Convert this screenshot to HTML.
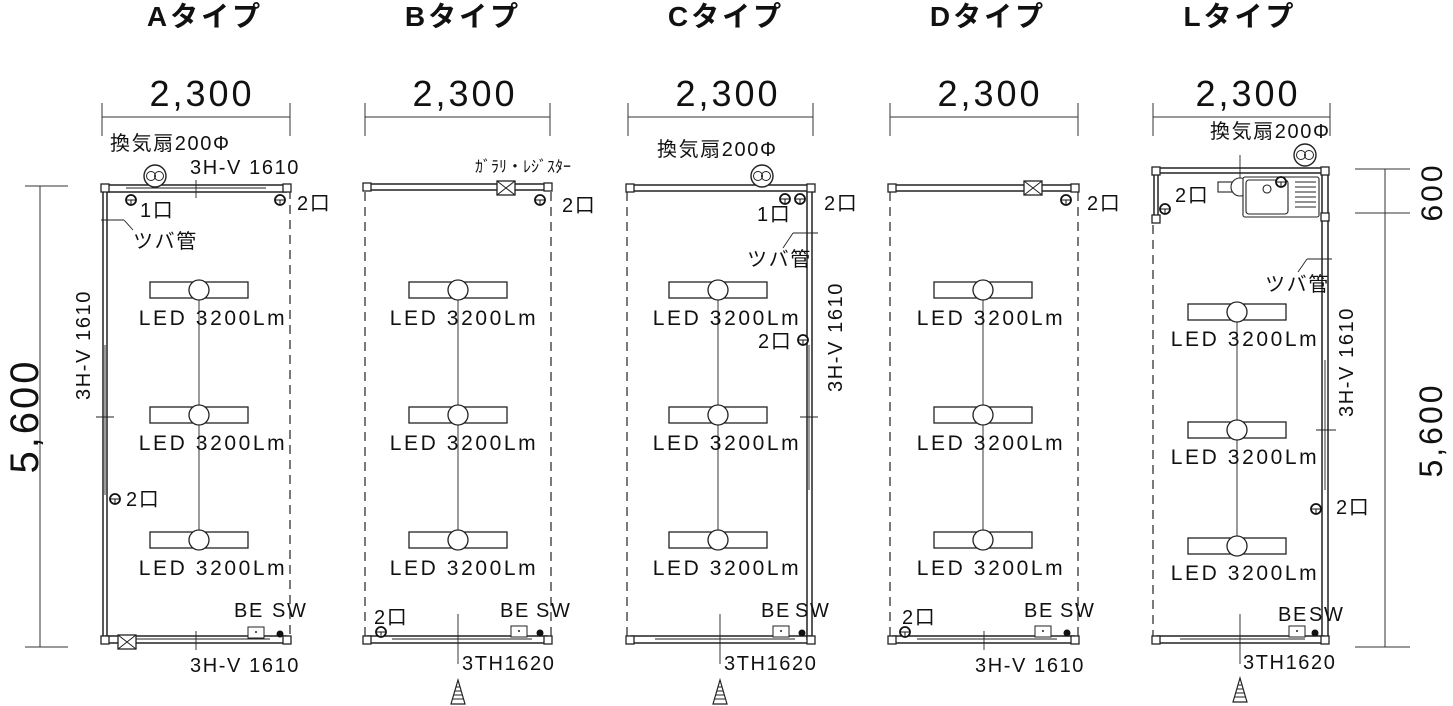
<!DOCTYPE html>
<html><head><meta charset="utf-8"><style>
html,body{margin:0;padding:0;background:#fff;}
svg{display:block;}
text{font-family:"Liberation Sans","Noto Sans CJK JP",sans-serif;fill:#111;}
.t{font-size:28px;font-weight:bold;letter-spacing:3px;}
.d{font-size:36px;letter-spacing:3px;}
.s{font-size:20px;letter-spacing:1.6px;}
.l{font-size:21px;letter-spacing:2.6px;}
.x{font-size:16px;}
</style></head><body>
<svg width="1453" height="706" viewBox="0 0 1453 706" xmlns="http://www.w3.org/2000/svg">
<defs>
 <g id="led"><rect x="-49" y="-8" width="98" height="16" fill="#fff" stroke="#222" stroke-width="1.3"/><circle r="10" fill="#fff" stroke="#222" stroke-width="1.3"/></g>
 <g id="fan"><circle r="11" fill="#fff" stroke="#222" stroke-width="1.4"/><circle cx="-4" r="4.5" fill="none" stroke="#222"/><circle cx="4" r="4.5" fill="none" stroke="#222"/></g>
 <g id="out"><circle r="5" fill="#fff" stroke="#111" stroke-width="1.8"/><line x1="-4" y1="0" x2="4" y2="0" stroke="#111"/><line x1="0" y1="0" x2="0" y2="4" stroke="#111"/></g>
 <g id="xb"><rect x="-9" y="-7" width="18" height="14" fill="#fff" stroke="#222" stroke-width="1.3"/><line x1="-9" y1="-7" x2="9" y2="7" stroke="#222"/><line x1="9" y1="-7" x2="-9" y2="7" stroke="#222"/></g>
 <g id="cor"><rect x="-4" y="-4" width="8" height="8" fill="#fff" stroke="#222" stroke-width="1.3"/></g>
 <g id="arr"><path d="M0,0 L-7,24 L7,24 Z" fill="#fff" stroke="#222" stroke-width="1.2"/><line x1="-2" y1="7" x2="2" y2="7" stroke="#222"/><line x1="-3" y1="11" x2="3" y2="11" stroke="#222"/><line x1="-4" y1="15" x2="4" y2="15" stroke="#222"/><line x1="-5" y1="19" x2="5" y2="19" stroke="#222"/></g>
 <g id="be"><rect x="-8" y="-6" width="16" height="11" fill="#fff" stroke="#222"/><circle r="1" cy="-1" fill="#222"/></g>
</defs>

<g stroke="#333" fill="none" stroke-width="1">
 <line x1="102" y1="117" x2="290" y2="117"/><line x1="102" y1="103" x2="102" y2="136"/><line x1="290" y1="103" x2="290" y2="136"/>
 <line x1="365" y1="117" x2="550" y2="117"/><line x1="365" y1="103" x2="365" y2="136"/><line x1="550" y1="103" x2="550" y2="136"/>
 <line x1="628" y1="117" x2="813" y2="117"/><line x1="628" y1="103" x2="628" y2="136"/><line x1="813" y1="103" x2="813" y2="136"/>
 <line x1="890" y1="117" x2="1078" y2="117"/><line x1="890" y1="103" x2="890" y2="136"/><line x1="1078" y1="103" x2="1078" y2="136"/>
 <line x1="1153" y1="117" x2="1330" y2="117"/><line x1="1153" y1="103" x2="1153" y2="136"/><line x1="1330" y1="103" x2="1330" y2="136"/>
 <line x1="40" y1="186" x2="40" y2="647"/><line x1="25" y1="186" x2="68" y2="186"/><line x1="25" y1="647" x2="68" y2="647"/>
 <line x1="1385" y1="169" x2="1385" y2="647"/><line x1="1355" y1="169" x2="1410" y2="169"/><line x1="1355" y1="213" x2="1410" y2="213"/><line x1="1355" y1="647" x2="1410" y2="647"/>
</g>

<text class="t" x="205" y="26" text-anchor="middle">Aタイプ</text>
<text class="t" x="463" y="26" text-anchor="middle">Bタイプ</text>
<text class="t" x="726" y="26" text-anchor="middle">Cタイプ</text>
<text class="t" x="988" y="26" text-anchor="middle">Dタイプ</text>
<text class="t" x="1240" y="26" text-anchor="middle">Lタイプ</text>
<text class="d" x="202" y="106" text-anchor="middle">2,300</text>
<text class="d" x="465" y="106" text-anchor="middle">2,300</text>
<text class="d" x="728" y="106" text-anchor="middle">2,300</text>
<text class="d" x="990" y="106" text-anchor="middle">2,300</text>
<text class="d" x="1248" y="106" text-anchor="middle">2,300</text>
<text class="d" transform="translate(38,416) rotate(-90)" text-anchor="middle" style="font-size:40px">5,600</text>
<text class="d" transform="translate(1442,430) rotate(-90)" text-anchor="middle" style="font-size:32px">5,600</text>
<text class="d" transform="translate(1442,192) rotate(-90)" text-anchor="middle" style="font-size:30px">600</text>

<!-- A -->
<g stroke="#222" fill="none" stroke-width="1.5">
 <line x1="103" y1="188" x2="103" y2="640"/><line x1="107" y1="192" x2="107" y2="636"/>
 <line x1="105" y1="185" x2="287" y2="185"/><line x1="107" y1="192" x2="287" y2="192"/>
 <line x1="126" y1="188" x2="266" y2="188" stroke-width="0.9"/>
 <line x1="105" y1="636" x2="287" y2="636"/><line x1="105" y1="643" x2="287" y2="643"/>
 <line x1="130" y1="639" x2="270" y2="639" stroke-width="0.9"/>
 <line x1="105" y1="345" x2="105" y2="495" stroke-width="0.9"/>
 <line x1="290" y1="190" x2="290" y2="640" stroke-dasharray="9,6" stroke-width="1.2"/>
 <line x1="196" y1="180" x2="196" y2="198" stroke-width="0.9"/>
 <line x1="196" y1="631" x2="196" y2="650" stroke-width="0.9"/>
 <line x1="96" y1="417" x2="114" y2="417" stroke-width="0.9"/>
 <line x1="101" y1="220" x2="124" y2="220" stroke-width="0.9"/><line x1="124" y1="220" x2="133" y2="230" stroke-width="0.9"/>
 <line x1="199" y1="300" x2="199" y2="530" stroke-width="0.9"/>
</g>
<use href="#cor" x="105" y="188"/><use href="#cor" x="287" y="188"/><use href="#cor" x="105" y="640"/><use href="#cor" x="287" y="640"/>
<use href="#fan" x="155" y="176"/>
<use href="#out" x="131" y="200"/><use href="#out" x="280" y="200"/><use href="#out" x="115" y="499"/>
<use href="#xb" x="127" y="642"/>
<use href="#be" x="256" y="633"/><circle cx="280" cy="634" r="3.5" fill="#111"/>
<use href="#led" x="199" y="290"/><use href="#led" x="199" y="415"/><use href="#led" x="199" y="540"/>
<text class="s" x="110" y="150">換気扇200Φ</text>
<text class="s" x="190" y="174">3H-V 1610</text>
<text class="s" x="140" y="217">1口</text>
<text class="s" x="297" y="210">2口</text>
<text class="s" x="133" y="248">ツバ管</text>
<text class="s" x="126" y="506">2口</text>
<text class="s" transform="translate(90,345) rotate(-90)" text-anchor="middle">3H-V 1610</text>
<text class="s" x="234" y="617">BE</text><text class="s" x="272" y="617">SW</text>
<text class="s" x="190" y="672">3H-V 1610</text>
<text class="l" x="213" y="325" text-anchor="middle">LED 3200Lm</text>
<text class="l" x="213" y="450" text-anchor="middle">LED 3200Lm</text>
<text class="l" x="213" y="575" text-anchor="middle">LED 3200Lm</text>

<!-- B -->
<g stroke="#222" fill="none" stroke-width="1.5">
 <line x1="367" y1="184" x2="548" y2="184"/><line x1="367" y1="190" x2="548" y2="190"/>
 <line x1="367" y1="636" x2="548" y2="636"/><line x1="367" y1="643" x2="548" y2="643"/>
 <line x1="392" y1="639" x2="532" y2="639" stroke-width="0.9"/>
 <line x1="365" y1="192" x2="365" y2="636" stroke-dasharray="9,6" stroke-width="1.2"/>
 <line x1="551" y1="192" x2="551" y2="636" stroke-dasharray="9,6" stroke-width="1.2"/>
 <line x1="458" y1="614" x2="458" y2="664" stroke-width="0.9"/>
 <line x1="458" y1="300" x2="458" y2="530" stroke-width="0.9"/>
</g>
<use href="#cor" x="367" y="187"/><use href="#cor" x="548" y="187"/><use href="#cor" x="367" y="640"/><use href="#cor" x="548" y="640"/>
<use href="#xb" x="506" y="188"/>
<use href="#out" x="540" y="200"/><use href="#out" x="381" y="632"/>
<use href="#be" x="519" y="632"/><circle cx="540" cy="633" r="3.5" fill="#111"/>
<use href="#arr" x="458" y="680"/>
<use href="#led" x="458" y="290"/><use href="#led" x="458" y="415"/><use href="#led" x="458" y="540"/>
<text class="x" x="475" y="172">ｶﾞﾗﾘ・ﾚｼﾞｽﾀｰ</text>
<text class="s" x="562" y="212">2口</text>
<text class="s" x="374" y="624">2口</text>
<text class="s" x="500" y="617">BE</text><text class="s" x="536" y="617">SW</text>
<text class="s" x="462" y="670">3TH1620</text>
<text class="l" x="464" y="325" text-anchor="middle">LED 3200Lm</text>
<text class="l" x="464" y="450" text-anchor="middle">LED 3200Lm</text>
<text class="l" x="464" y="575" text-anchor="middle">LED 3200Lm</text>

<!-- C -->
<g stroke="#222" fill="none" stroke-width="1.5">
 <line x1="630" y1="185" x2="811" y2="185"/><line x1="630" y1="191" x2="807" y2="191"/>
 <line x1="807" y1="191" x2="807" y2="640"/><line x1="812" y1="188" x2="812" y2="640"/>
 <line x1="630" y1="636" x2="811" y2="636"/><line x1="630" y1="643" x2="811" y2="643"/>
 <line x1="655" y1="639" x2="795" y2="639" stroke-width="0.9"/>
 <line x1="809" y1="345" x2="809" y2="490" stroke-width="0.9"/>
 <line x1="627" y1="192" x2="627" y2="636" stroke-dasharray="9,6" stroke-width="1.2"/>
 <line x1="720" y1="614" x2="720" y2="664" stroke-width="0.9"/>
 <line x1="800" y1="417" x2="818" y2="417" stroke-width="0.9"/>
 <line x1="793" y1="233" x2="818" y2="233" stroke-width="0.9"/><line x1="793" y1="233" x2="783" y2="248" stroke-width="0.9"/>
 <line x1="718" y1="300" x2="718" y2="530" stroke-width="0.9"/>
</g>
<use href="#cor" x="630" y="188"/><use href="#cor" x="811" y="188"/><use href="#cor" x="630" y="640"/><use href="#cor" x="811" y="640"/>
<use href="#fan" x="762" y="176"/>
<use href="#out" x="785" y="199"/><use href="#out" x="800" y="199"/><use href="#out" x="803" y="340"/>
<use href="#be" x="781" y="632"/><circle cx="802" cy="633" r="3.5" fill="#111"/>
<use href="#arr" x="720" y="680"/>
<use href="#led" x="718" y="290"/><use href="#led" x="718" y="415"/><use href="#led" x="718" y="540"/>
<text class="s" x="657" y="156">換気扇200Φ</text>
<text class="s" x="757" y="221">1口</text>
<text class="s" x="824" y="210">2口</text>
<text class="s" x="747" y="266">ツバ管</text>
<text class="s" x="758" y="348">2口</text>
<text class="s" transform="translate(842,337) rotate(-90)" text-anchor="middle">3H-V 1610</text>
<text class="s" x="761" y="617">BE</text><text class="s" x="795" y="617">SW</text>
<text class="s" x="724" y="670">3TH1620</text>
<text class="l" x="727" y="325" text-anchor="middle">LED 3200Lm</text>
<text class="l" x="727" y="450" text-anchor="middle">LED 3200Lm</text>
<text class="l" x="727" y="575" text-anchor="middle">LED 3200Lm</text>

<!-- D -->
<g stroke="#222" fill="none" stroke-width="1.5">
 <line x1="892" y1="185" x2="1075" y2="185"/><line x1="892" y1="191" x2="1075" y2="191"/>
 <line x1="892" y1="636" x2="1075" y2="636"/><line x1="892" y1="643" x2="1075" y2="643"/>
 <line x1="917" y1="639" x2="1057" y2="639" stroke-width="0.9"/>
 <line x1="890" y1="192" x2="890" y2="636" stroke-dasharray="9,6" stroke-width="1.2"/>
 <line x1="1078" y1="192" x2="1078" y2="636" stroke-dasharray="9,6" stroke-width="1.2"/>
 <line x1="984" y1="631" x2="984" y2="650" stroke-width="0.9"/>
 <line x1="983" y1="300" x2="983" y2="530" stroke-width="0.9"/>
</g>
<use href="#cor" x="892" y="188"/><use href="#cor" x="1075" y="188"/><use href="#cor" x="892" y="640"/><use href="#cor" x="1075" y="640"/>
<use href="#xb" x="1033" y="188"/>
<use href="#out" x="1066" y="200"/><use href="#out" x="905" y="632"/>
<use href="#be" x="1043" y="632"/><circle cx="1067" cy="633" r="3.5" fill="#111"/>
<use href="#led" x="983" y="290"/><use href="#led" x="983" y="415"/><use href="#led" x="983" y="540"/>
<text class="s" x="1087" y="210">2口</text>
<text class="s" x="902" y="624">2口</text>
<text class="s" x="1024" y="617">BE</text><text class="s" x="1060" y="617">SW</text>
<text class="s" x="975" y="672">3H-V 1610</text>
<text class="l" x="991" y="325" text-anchor="middle">LED 3200Lm</text>
<text class="l" x="991" y="450" text-anchor="middle">LED 3200Lm</text>
<text class="l" x="991" y="575" text-anchor="middle">LED 3200Lm</text>

<!-- L -->
<g stroke="#222" fill="none" stroke-width="1.5">
 <line x1="1156" y1="168" x2="1323" y2="168"/><line x1="1160" y1="173" x2="1323" y2="173"/>
 <line x1="1154" y1="170" x2="1154" y2="218"/><line x1="1158" y1="173" x2="1158" y2="218"/>
 <line x1="1322" y1="173" x2="1322" y2="636"/><line x1="1328" y1="170" x2="1328" y2="640"/>
 <line x1="1325" y1="360" x2="1325" y2="490" stroke-width="0.9"/>
 <line x1="1156" y1="636" x2="1325" y2="636"/><line x1="1156" y1="643" x2="1325" y2="643"/>
 <line x1="1180" y1="639" x2="1305" y2="639" stroke-width="0.9"/>
 <line x1="1153" y1="225" x2="1153" y2="636" stroke-dasharray="9,6" stroke-width="1.2"/>
 <line x1="1240" y1="614" x2="1240" y2="664" stroke-width="0.9"/>
 <line x1="1240" y1="155" x2="1240" y2="180" stroke-width="0.9"/>
 <line x1="1316" y1="430" x2="1336" y2="430" stroke-width="0.9"/>
 <line x1="1307" y1="259" x2="1332" y2="259" stroke-width="0.9"/><line x1="1307" y1="259" x2="1298" y2="272" stroke-width="0.9"/>
 <rect x="1218" y="182" width="52" height="10" fill="#fff" stroke-width="1.1"/>
 <circle cx="1240" cy="187" r="9" fill="#fff" stroke-width="1.1"/>
 <rect x="1243" y="177" width="76" height="40" rx="2" fill="#fff" stroke-width="1.1"/>
 <rect x="1246" y="180" width="42" height="34" rx="3" stroke-width="1.1"/>
 <circle cx="1267" cy="189" r="4" stroke-width="1.1"/>
 <g stroke-width="0.9"><line x1="1295" y1="182" x2="1316" y2="182"/><line x1="1295" y1="187" x2="1316" y2="187"/><line x1="1295" y1="192" x2="1316" y2="192"/><line x1="1295" y1="197" x2="1316" y2="197"/><line x1="1295" y1="202" x2="1316" y2="202"/><line x1="1295" y1="207" x2="1316" y2="207"/></g>
 <line x1="1237" y1="322" x2="1237" y2="536" stroke-width="0.9"/>
</g>
<use href="#cor" x="1156" y="171"/><use href="#cor" x="1325" y="171"/><use href="#cor" x="1325" y="217"/><use href="#cor" x="1156" y="219"/>
<use href="#cor" x="1156" y="640"/><use href="#cor" x="1325" y="640"/>
<use href="#fan" x="1305" y="155"/>
<use href="#out" x="1281" y="182"/><use href="#out" x="1165" y="209"/><use href="#out" x="1316" y="509"/>
<use href="#be" x="1297" y="632"/><circle cx="1315" cy="633" r="3.5" fill="#111"/>
<use href="#arr" x="1240" y="678"/>
<use href="#led" x="1237" y="312"/><use href="#led" x="1237" y="430"/><use href="#led" x="1237" y="546"/>
<text class="s" x="1210" y="138">換気扇200Φ</text>
<text class="s" x="1175" y="202">2口</text>
<text class="s" x="1265" y="291">ツバ管</text>
<text class="s" transform="translate(1353,362) rotate(-90)" text-anchor="middle">3H-V 1610</text>
<text class="s" x="1336" y="514">2口</text>
<text class="s" x="1278" y="621">BE</text><text class="s" x="1309" y="621">SW</text>
<text class="s" x="1243" y="669">3TH1620</text>
<text class="l" x="1245" y="346" text-anchor="middle">LED 3200Lm</text>
<text class="l" x="1245" y="464" text-anchor="middle">LED 3200Lm</text>
<text class="l" x="1245" y="580" text-anchor="middle">LED 3200Lm</text>
</svg>
</body></html>
